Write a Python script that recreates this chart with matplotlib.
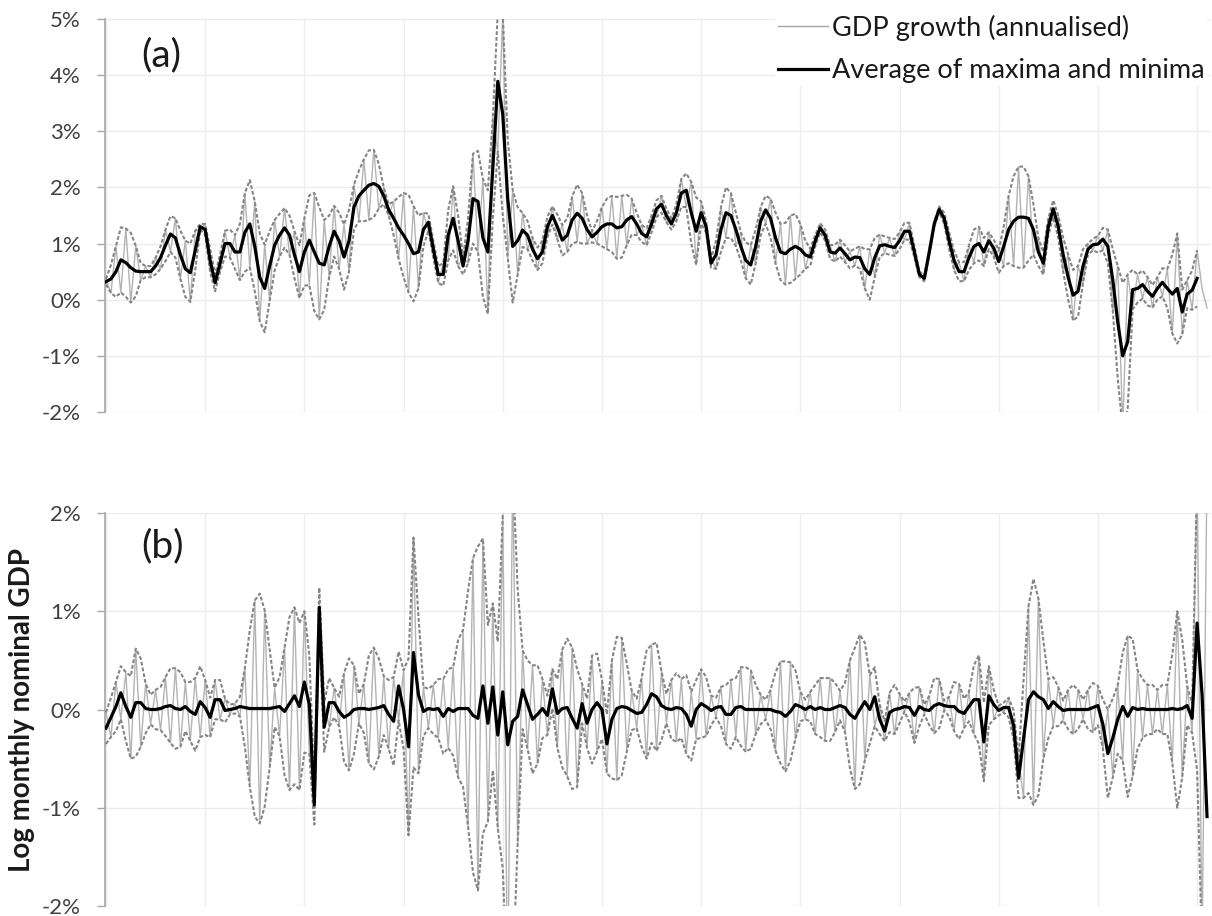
import numpy as np
import matplotlib
matplotlib.use("Agg")
import matplotlib.pyplot as plt
from matplotlib.ticker import FuncFormatter
from matplotlib.lines import Line2D

plt.rcParams['font.family'] = ['Lato', 'DejaVu Sans']

# quarterly observations starting 1960, values in hundredths of a percent
start_year = 1960
step = 0.25

# ---- panel (a): GDP growth (annualised)
a_gdp = [37, 12, 95, 13, 127, -5, 96, 35, 60, 40,
         75, 55, 125, 85, 145, 37, 105, -4, 123, 125,
         135, 50, 45, 50, 123, 75, 115, 35, 190, 57,
         175, -38, 98, -2, 142, 77, 163, 80, 122, 3,
         145, 26, 190, -35, 142, 40, 167, 55, 134, 50,
         205, 140, 250, 142, 267, 162, 200, 150, 175, 73,
         190, 13, 167, 20, 155, 123, 105, 30, 65, 70,
         202, 60, 75, 65, 260, 85, 215, -25, 325, 264,
         510, 75, 195, 45, 154, 90, 110, 53, 105, 112,
         166, 108, 133, 85, 184, 103, 190, 100, 122, 100,
         165, 90, 185, 73, 185, 97, 180, 115, 133, 97,
         150, 147, 185, 138, 145, 140, 215, 165, 210, 62,
         175, 120, 73, 55, 165, 110, 190, 95, 120, 38,
         97, 65, 165, 135, 180, 65, 135, 27, 150, 37,
         135, 55, 91, 95, 136, 105, 97, 68, 107, 67,
         86, 61, 95, 20, 90, 40, 116, 83, 110, 78,
         120, 107, 137, 75, 50, 33, 90, 130, 166, 135,
         120, 53, 67, 33, 97, 65, 130, 60, 120, 77,
         88, 60, 185, 60, 237, 57, 220, 80, 110, 45,
         145, 147, 150, 50, 80, -37, 60, 30, 100, 88,
         114, 88, 125, -20, 60, -230, 45, -17, 45, 2,
         40, -14, 40, 6, 55, -60, 118, -62, 35, -18,
         88, 20, -15]

a_upper = [37, 62, 95, 129, 127, 119, 96, 65, 60, 60,
           75, 95, 125, 149, 145, 123, 105, 100, 123, 135,
           135, 90, 45, 80, 123, 125, 115, 135, 190, 213,
           175, 118, 98, 122, 142, 153, 163, 150, 122, 97,
           145, 186, 190, 165, 142, 150, 167, 155, 134, 160,
           205, 230, 250, 266, 267, 242, 200, 170, 175, 183,
           190, 187, 167, 150, 155, 153, 105, 60, 65, 160,
           202, 150, 75, 145, 260, 265, 215, 195, 325, 514,
           510, 285, 195, 165, 154, 140, 110, 93, 105, 148,
           166, 152, 133, 145, 184, 205, 190, 150, 122, 140,
           165, 180, 185, 183, 185, 187, 180, 155, 133, 127,
           150, 177, 185, 162, 145, 170, 215, 225, 210, 182,
           175, 140, 73, 105, 165, 200, 190, 155, 120, 102,
           97, 125, 165, 185, 180, 155, 135, 137, 150, 153,
           135, 105, 91, 115, 136, 125, 97, 98, 107, 97,
           86, 91, 95, 90, 90, 110, 116, 113, 110, 108,
           120, 137, 137, 95, 50, 43, 90, 140, 166, 155,
           120, 87, 67, 67, 97, 125, 130, 110, 120, 107,
           88, 130, 185, 220, 237, 237, 220, 170, 110, 85,
           145, 177, 150, 110, 80, 53, 60, 90, 100, 108,
           114, 128, 125, 90, 60, 30, 45, 53, 45, 52,
           40, 26, 40, 56, 55, 80, 118, 18, 35, 52,
           88, None, None]

a_lower = [27, 12, 5, 13, 5, -5, 6, 35, 40, 40,
           45, 55, 69, 85, 75, 37, 5, -4, 53, 125,
           115, 50, 15, 50, 77, 75, 55, 35, 50, 57,
           15, -38, -58, -2, 52, 77, 93, 80, 38, 3,
           25, 26, -20, -35, -18, 40, 77, 55, 18, 50,
           125, 140, 140, 142, 147, 162, 170, 150, 115, 73,
           40, 13, -3, 20, 95, 123, 75, 30, 25, 70,
           88, 60, 45, 65, 100, 85, 5, -25, 145, 264,
           150, 75, -5, 45, 94, 90, 70, 53, 65, 112,
           134, 108, 79, 85, 100, 103, 100, 100, 102, 100,
           95, 90, 85, 73, 75, 97, 116, 115, 103, 97,
           120, 147, 155, 138, 125, 140, 165, 165, 100, 62,
           135, 120, 57, 55, 85, 110, 110, 95, 70, 38,
           27, 65, 115, 135, 110, 65, 35, 27, 30, 37,
           45, 55, 61, 95, 120, 105, 73, 68, 77, 67,
           56, 61, 55, 20, 0, 40, 76, 83, 80, 78,
           90, 107, 107, 75, 40, 33, 80, 130, 156, 135,
           90, 53, 33, 33, 53, 65, 70, 60, 90, 77,
           48, 60, 65, 60, 57, 57, 70, 80, 60, 45,
           115, 147, 110, 50, 0, -37, -30, 30, 80, 88,
           84, 88, 65, -20, -140, -230, -195, -17, -5, 2,
           -10, -14, 0, 6, -15, -60, -78, -62, -15, -18,
           -12, None, None]

a_mid = [32, 37, 50, 71, 66, 57, 51, 50, 50, 50,
         60, 75, 97, 117, 110, 80, 55, 48, 88, 130,
         125, 70, 30, 65, 100, 100, 85, 85, 120, 135,
         95, 40, 20, 60, 97, 115, 128, 115, 80, 50,
         85, 106, 85, 65, 62, 95, 122, 105, 76, 105,
         165, 185, 195, 204, 207, 202, 185, 160, 145, 128,
         115, 100, 82, 85, 125, 138, 90, 45, 45, 115,
         145, 105, 60, 105, 180, 175, 110, 85, 235, 389,
         330, 180, 95, 105, 124, 115, 90, 73, 85, 130,
         150, 130, 106, 115, 142, 154, 145, 125, 112, 120,
         130, 135, 135, 128, 130, 142, 148, 135, 118, 112,
         135, 162, 170, 150, 135, 155, 190, 195, 155, 122,
         155, 130, 65, 80, 125, 155, 150, 125, 95, 70,
         62, 95, 140, 160, 145, 110, 85, 82, 90, 95,
         90, 80, 76, 105, 128, 115, 85, 83, 92, 82,
         71, 76, 75, 55, 45, 75, 96, 98, 95, 93,
         105, 122, 122, 85, 45, 38, 85, 135, 161, 145,
         105, 70, 50, 50, 75, 95, 100, 85, 105, 92,
         68, 95, 125, 140, 147, 147, 145, 125, 85, 65,
         130, 162, 130, 80, 40, 8, 15, 60, 90, 98,
         99, 108, 95, 35, -40, -100, -75, 18, 20, 27,
         15, 6, 20, 31, 20, 10, 20, -22, 10, 17,
         38, None, None]

# ---- panel (b): log monthly nominal GDP (detrended)
b_gdp = [-3, -28, 28, -10, 38, -50, 62, -38, 26, -15,
         20, -21, 33, -34, 42, -38, 28, -32, 32, -28,
         30, -28, 30, -10, 11, -5, 6, -7, 42, -79,
         111, -116, 101, -59, 22, -27, 63, -82, 104, -82,
         100, -45, -77, 84, 7, -18, 22, -17, 37, -62,
         45, -14, 26, -55, 63, -48, 34, -40, 33, -11,
         40, -128, 175, -65, 23, -19, 25, -29, 31, -39,
         43, -69, 81, -119, 154, -184, 174, -114, 108, -121,
         198, -296, 248, -137, 60, -40, 45, -55, 31, -26,
         41, -39, 61, -68, 63, -79, 26, -39, 55, -43,
         30, -65, 50, -72, 73, -43, 19, -19, 32, -50,
         66, -42, 39, -14, 30, -33, 31, -45, 18, -30,
         41, -27, 14, -8, 23, -35, 30, -28, 43, -43,
         40, -25, 15, -10, 20, -42, 49, -63, 48, -30,
         18, -10, 18, -25, 32, -32, 32, -23, 19, -23,
         50, -81, 76, -52, 35, -17, 5, -32, 17, -25,
         16, -2, 17, -34, 23, -5, 14, -24, 31, -1,
         13, -22, 26, -19, 18, -25, 55, -73, 44, -10,
         4, -3, 12, -31, -50, -90, 105, -97, 113, -50,
         31, -17, 23, -11, 20, -25, 20, -10, 20, -23,
         24, -40, 0, -69, 25, -52, 75, -68, 40, -29,
         25, -25, 20, -25, 25, -54, 100, -69, 24, -24,
         238, -245, 250]

b_upper = [-3, 12, 28, 44, 38, 34, 62, 52, 26, 15,
           20, 23, 33, 42, 42, 38, 28, 28, 32, 44,
           30, 12, 30, 30, 11, 5, 6, 13, 42, 81,
           111, 118, 101, 61, 22, 33, 63, 94, 104, 88,
           100, 55, -77, 124, 7, 32, 22, 13, 37, 52,
           45, 16, 26, 55, 63, 52, 34, 30, 33, 59,
           40, 52, 175, 95, 23, 21, 25, 31, 31, 41,
           43, 71, 81, 121, 154, 166, 174, 86, 108, 69,
           198, 224, 248, 123, 60, 50, 45, 45, 31, 14,
           41, 31, 61, 72, 63, 41, 26, 11, 55, 57,
           30, -5, 50, 74, 73, 47, 19, 11, 32, 60,
           66, 68, 39, 16, 30, 37, 31, 35, 18, 30,
           41, 33, 14, 12, 23, 25, 30, 32, 43, 43,
           40, 25, 15, 10, 20, 38, 49, 49, 48, 40,
           18, 10, 18, 25, 32, 32, 32, 27, 19, 27,
           50, 63, 76, 68, 35, 43, 5, -12, 17, 25,
           16, 8, 17, 22, 23, 5, 14, 32, 31, 9,
           13, 28, 26, 11, 18, 45, 55, 7, 44, 20,
           4, 7, 12, -1, -50, 30, 105, 133, 113, 70,
           31, 33, 23, 9, 20, 25, 20, 10, 20, 27,
           24, 10, 0, 11, 25, 58, 75, 72, 40, 31,
           25, 25, 20, 25, 25, 56, 100, 71, 24, 6,
           238, 275, 250]

b_lower = [-35, -28, -22, -10, -32, -50, -48, -38, -24, -15,
           -20, -21, -27, -34, -40, -38, -22, -32, -42, -28,
           -26, -28, -10, -10, -13, -5, -4, -7, -38, -79,
           -109, -116, -99, -59, -18, -27, -67, -82, -76, -82,
           -44, -45, -117, 84, -43, -18, -8, -17, -53, -62,
           -45, -14, -24, -55, -61, -48, -26, -40, -57, -11,
           -40, -128, -59, -65, -27, -19, -25, -29, -45, -39,
           -47, -69, -79, -119, -166, -184, -126, -114, -62, -121,
           -162, -296, -272, -137, -20, -40, -65, -55, -29, -26,
           1, -39, -59, -68, -81, -79, -14, -39, -55, -43,
           -30, -65, -70, -72, -67, -43, -21, -19, -38, -50,
           -34, -42, -31, -14, -30, -33, -29, -45, -52, -30,
           -29, -27, -16, -8, -17, -35, -40, -28, -37, -43,
           -40, -25, -15, -10, -20, -42, -55, -63, -52, -30,
           -12, -10, -12, -25, -28, -32, -32, -23, -11, -23,
           -60, -81, -76, -52, -35, -17, -25, -32, -23, -25,
           -14, -2, -13, -34, -17, -5, -16, -24, -19, -1,
           -7, -22, -30, -19, -12, -25, -35, -73, -16, -10,
           -6, -3, -8, -31, -90, -90, -85, -97, -87, -50,
           -29, -17, -17, -11, -20, -25, -20, -10, -20, -23,
           -16, -40, -90, -69, -45, -52, -89, -68, -40, -29,
           -25, -25, -20, -25, -25, -54, -100, -69, -16, -24,
           -62, -245, -370]

b_mid = [-19, -8, 3, 17, 3, -8, 7, 7, 1, 0,
         0, 1, 3, 4, 1, 0, 3, -2, -5, 8,
         2, -8, 10, 10, -1, 0, 1, 3, 2, 1,
         1, 1, 1, 1, 2, 3, -2, 6, 14, 3,
         28, 5, -97, 104, -18, 7, 7, -2, -8, -5,
         0, 1, 1, 0, 1, 2, 4, -5, -12, 24,
         0, -38, 58, 15, -2, 1, 0, 1, -7, 1,
         -2, 1, 1, 1, -6, -9, 24, -14, 23, -26,
         18, -36, -12, -7, 20, 5, -10, -5, 1, -6,
         21, -4, 1, 2, -9, -19, 6, -14, 0, 7,
         0, -35, -10, 1, 3, 2, -1, -4, -3, 5,
         16, 13, 4, 1, 0, 2, 1, -5, -17, 0,
         6, 3, -1, 2, 3, -5, -5, 2, 3, 0,
         0, 0, 0, 0, 0, -2, -3, -7, -2, 5,
         3, 0, 3, 0, 2, 0, 0, 2, 4, 2,
         -5, -9, 0, 8, 0, 13, -10, -22, -3, 0,
         1, 3, 2, -6, 3, 0, -1, 4, 6, 4,
         3, 3, -2, -4, 3, 10, 10, -33, 14, 5,
         -1, 2, 2, -16, -70, -30, 10, 18, 13, 10,
         1, 8, 3, -1, 0, 0, 0, 0, 0, 2,
         4, -15, -45, -29, -10, 3, -7, 2, 0, 1,
         0, 0, 0, 0, 0, 1, 0, 1, 4, -9,
         88, 15, -109]


def pct(vals):
    return np.array([np.nan if v is None else v for v in vals], dtype=float) / 100


t = start_year + step * np.arange(len(a_gdp))

fig = plt.figure(figsize=(12.12, 9.16), dpi=100)
ax_a = fig.add_axes([105 / 1212, 1 - 412 / 916, 1105 / 1212, 393 / 916])
ax_b = fig.add_axes([105 / 1212, 1 - 906 / 916, 1105 / 1212, 393 / 916])

grey_thin = '#b3b3b3'
grey_dash = '#858585'
dash = (0, (1.8, 1.0))


def style(ax, lo, hi):
    ax.set_xlim(1959.95, 2015.65)
    ax.set_ylim(lo, hi)
    ax.set_xticks(np.arange(1960, 2016, 5))
    ax.set_yticks(np.arange(lo, hi + 1, 1))
    ax.yaxis.set_major_formatter(FuncFormatter(lambda v, p: f'{v:.0f}%'))
    ax.grid(True, color='#ececec', lw=1.0)
    ax.set_axisbelow(True)
    ax.tick_params(axis='x', length=0, labelbottom=False)
    ax.tick_params(axis='y', length=5.8, width=1, color='#a6a6a6',
                   labelsize=16, labelcolor='#404040', pad=11.5)
    for s in ['top', 'right', 'bottom']:
        ax.spines[s].set_visible(False)
    ax.spines['left'].set_color('#a6a6a6')
    ax.spines['left'].set_linewidth(1.2)


for ax, g, u, l, m, lo, hi in [(ax_a, a_gdp, a_upper, a_lower, a_mid, -2, 5),
                               (ax_b, b_gdp, b_upper, b_lower, b_mid, -2, 2)]:
    style(ax, lo, hi)
    ax.plot(t, pct(g), color=grey_thin, lw=1.0, zorder=2)
    ax.plot(t, pct(u), color=grey_dash, lw=1.5, ls=dash, zorder=3)
    ax.plot(t, pct(l), color=grey_dash, lw=1.5, ls=dash, zorder=3)
    ax.plot(t, pct(m), color='black', lw=2.3, zorder=4)

box = dict(facecolor='white', edgecolor='none', pad=0.65)
ax_a.text(0.0507, 0.908, '(a)', transform=ax_a.transAxes, fontsize=28, ha='center', va='center',
          color='#1a1a1a', bbox=box, zorder=1.5)
ax_b.text(0.0516, 0.916, '(b)', transform=ax_b.transAxes, fontsize=28, ha='center', va='center',
          color='#1a1a1a', bbox=box, zorder=1.5)

handles = [Line2D([], [], color='#a6a6a6', lw=1.0), Line2D([], [], color='black', lw=2.3)]
leg = ax_a.legend(handles, ['GDP growth (annualised)', 'Average of maxima and minima'],
                  loc='upper left', bbox_to_anchor=(0.6063, 1.0186), fontsize=19.5,
                  handlelength=1.85, handletextpad=0.15, labelspacing=0.66,
                  borderpad=0.1, borderaxespad=0, frameon=True, fancybox=False)
leg.get_frame().set_facecolor('white')
leg.get_frame().set_edgecolor('none')
leg.get_frame().set_alpha(1)
for txt in leg.get_texts():
    txt.set_color('#1a1a1a')

ax_b.set_ylabel('Log monthly nominal GDP', fontsize=20, fontweight='bold', color='#1a1a1a')
ax_b.yaxis.set_label_coords(-0.063, 0.5)

fig.savefig('out.png', dpi=100)
